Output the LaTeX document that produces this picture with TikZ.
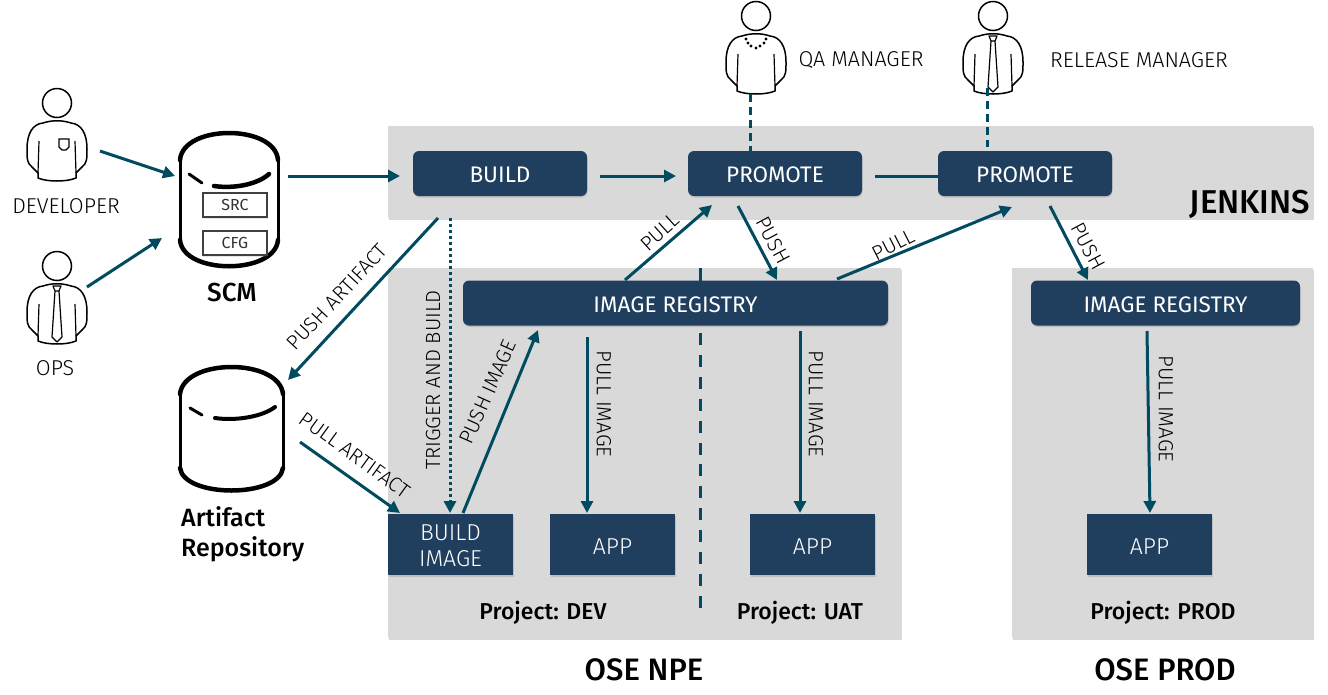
\documentclass[tikz,border=0pt]{standalone}
\usepackage{fontspec}
\setmainfont{Fira Sans Light}[BoldFont={Fira Sans Medium}]
\newfontfamily\boxfont{Fira Sans}
\usepackage{tikz}
\usetikzlibrary{arrows.meta,positioning,shadows}
\definecolor{navy}{HTML}{203F5E}
\definecolor{teal}{HTML}{004B5F}
\definecolor{panel}{HTML}{D9D9D9}
\newcommand{\fs}[1]{\fontsize{#1}{#1}\selectfont}
\tikzset{
  person/.pic={
    \draw[line width=1.5pt,fill=white,line join=round]
      (-14,20) .. controls (-24,21) and (-30,30) .. (-30,46)
      .. controls (-30,56) and (-30,60) .. (-25,64)
      -- (-19,70) -- (-19,75) .. controls (-10,79) and (10,79) .. (19,75)
      -- (19,70) -- (25,64) .. controls (30,60) and (30,56) .. (30,46)
      .. controls (30,30) and (24,21) .. (14,20)
      .. controls (5,17) and (-5,17) .. (-14,20) -- cycle;
    \draw[line width=1.5pt,fill=white] (0,0) circle (14.5);
    \draw[line width=1.2pt] (-18,38) -- (-19,70) (18,38) -- (19,70);
  },
  pocket/.pic={
    \draw[line width=1.2pt] (2,36) -- (12,36) -- (12,44) -- (9,47) -- (5,47) -- (2,44) -- cycle;
  },
  necktie/.pic={
    \draw[line width=1.2pt,line join=round] (-4,20) -- (4,20) -- (2,25) -- (-2,25) -- cycle
      (-2,25) -- (-5,71) -- (0,76) -- (5,71) -- (2,25);
  },
  necklace/.pic={
    \foreach \dx/\dy in {-10/23,-8/27,-5/30,0/32,4/30,8/27,10/23}
      \fill (\dx,\dy) circle (1.6);
  }
}
\begin{document}
\begin{tikzpicture}[x=1pt,y=-1pt,>={Triangle[length=12pt,width=12pt]}]
  \tikzstyle{zone}=[fill=panel,draw=none,inner sep=0pt,drop shadow={shadow xshift=0.5pt,shadow yshift=-1.5pt,opacity=.3}]
  \tikzstyle{pill}=[fill=navy,text=white,rounded corners=6pt,inner sep=0pt,minimum height=45pt,font=\boxfont\fs{22.5},text height=18.5pt,text depth=0pt,drop shadow={shadow xshift=0.5pt,shadow yshift=-1.5pt,opacity=.3}]
  \tikzstyle{block}=[fill=navy,text=white,inner sep=0pt,minimum width=125pt,minimum height=61pt,align=center,font=\fs{23},drop shadow={shadow xshift=0.5pt,shadow yshift=-1.5pt,opacity=.3}]
  \tikzstyle{tag}=[fill=white,draw=black!75,line width=1.3pt,inner sep=0pt,minimum width=64pt,minimum height=24pt,font=\boxfont\fs{16},text=black!80,drop shadow={shadow xshift=0pt,shadow yshift=-2pt,opacity=.2}]
  \tikzstyle{role}=[font=\fs{21.5},text=black]
  \tikzstyle{lbl}=[font=\fs{20.5},text=black,inner sep=0pt]
  \tikzstyle{head}=[font=\bfseries\fs{23},text=black]
  \tikzstyle{title}=[font=\bfseries\fs{33},text=black]
  \tikzstyle{flow}=[->,teal,line width=3pt]
  \tikzstyle{tub}=[line width=4.5pt,line cap=round]
  \tikzstyle{side}=[line width=3pt]

  \useasboundingbox (0,0) rectangle (1328,694);

  % panels
  \node[zone,minimum width=925pt,minimum height=92pt] (jenkins) at (850.5,172) {};
  \node[zone,minimum width=513pt,minimum height=370pt] (npe) at (644.5,453) {};
  \node[zone,minimum width=301pt,minimum height=370pt] (prod) at (1162.5,453) {};

  % people
  \pic at (57,103) {person};
  \pic at (57,103) {pocket};
  \pic at (57,266) {person};
  \pic at (57,266) {necktie};
  \pic at (756,16) {person};
  \pic at (756,16) {necklace};
  \pic at (993,16) {person};
  \pic at (993,16) {necktie};
  \node[role] (developer) at (66,206) {DEVELOPER};
  \node[role] (ops) at (55,368) {OPS};
  \node[role] (qa) at (861,60) {QA MANAGER};
  \node[role] (release) at (1139,60) {RELEASE MANAGER};

  % scm
  \draw[side] (180,160) -- (180,240) (278,160) -- (278,240);
  \draw[tub] (180,160) .. controls (183,124) and (275,124) .. (278,160);
  \draw[tub] (180,240) .. controls (183,275) and (275,275) .. (278,240);
  \draw[side,line cap=round] (189,174) -- (202,183);
  \draw[tub,line cap=round] (214,186) .. controls (235,189) and (258,184) .. (269,174);
  \node[tag] (src) at (235,205) {SRC};
  \node[tag] (cfg) at (235,243) {CFG};
  \node[head,font=\bfseries\fs{26}] (scm) at (232,293) {SCM};

  % artifact repo
  \draw[side] (180,394) -- (180,468) (283,394) -- (283,468);
  \draw[tub] (180,394) .. controls (184,358) and (279,358) .. (283,394);
  \draw[tub] (180,468) .. controls (184,498) and (279,498) .. (283,468);
  \draw[side,line cap=round] (190,408) -- (202,415);
  \draw[side,line width=4pt,line cap=round] (215,418) .. controls (235,421) and (262,417) .. (275,407);
  \node[head,font=\bfseries\fs{25},align=left,anchor=north west,inner sep=0pt] (artifact) at (181,506) {Artifact\\[5pt]Repository};

  % divider, behind the registry
  \coordinate (z_0) at (700,268);
  \coordinate (z_2) at (700,281);
  \coordinate (z_3) at (700,333);
  \coordinate (z_1) at (700,608);
  \draw[teal,line width=3pt] (z_0) -- (z_2);
  \draw[teal,line width=3pt,dash pattern=on 12pt off 9.9pt] (z_3) -- (z_1);

  % jenkins row
  \node[pill,minimum width=174pt] (build) at (500,173.5) {BUILD};
  \node[pill,minimum width=174pt] (promote_1) at (775,173.5) {PROMOTE};
  \node[pill,minimum width=174pt] (promote_2) at (1025,173.5) {PROMOTE};
  \node[pill,minimum width=425pt] (registry_1) at (675.5,303) {IMAGE REGISTRY};
  \node[pill,minimum width=269pt] (registry_2) at (1165.5,303) {IMAGE REGISTRY};

  % blocks
  \node[block] (image) at (450.5,544.5) {\rule{0pt}{19pt}BUILD\\[3.2pt]IMAGE};
  \node[block] (app_1) at (612.5,544.5) {\rule{0pt}{19pt}APP};
  \node[block] (app_2) at (812.5,544.5) {\rule{0pt}{19pt}APP};
  \node[block] (app_3) at (1149.5,544.5) {\rule{0pt}{19pt}APP};

  % free ends
  \coordinate (d_0) at (100,151);
  \coordinate (d_1) at (175,176);
  \coordinate (o_0) at (87,287);
  \coordinate (o_1) at (162,238);
  \coordinate (s_0) at (288,176);
  \coordinate (s_1) at (400,176);
  \coordinate (b_0) at (600,176);
  \coordinate (b_1) at (676,176);
  \coordinate (p_0) at (875,176);
  \coordinate (q_0) at (750,94);
  \coordinate (q_1) at (750,151);
  \coordinate (r_0) at (987,88);
  \coordinate (r_1) at (987,147);
  \coordinate (a_0) at (438,218);
  \coordinate (a_1) at (288,380);
  \coordinate (t_0) at (450,218);
  \coordinate (t_2) at (450,500);
  \coordinate (t_1) at (450,513);
  \coordinate (f_0) at (300,442);
  \coordinate (f_1) at (400,513);
  \coordinate (i_0) at (463,513);
  \coordinate (i_1) at (538,330);
  \coordinate (u_0) at (625,280);
  \coordinate (u_1) at (712,205);
  \coordinate (v_0) at (738,206);
  \coordinate (v_1) at (777,280);
  \coordinate (w_0) at (837,279);
  \coordinate (w_1) at (1012,207);
  \coordinate (y_0) at (1050,206);
  \coordinate (y_1) at (1088,280);
  \coordinate (g_0) at (587,337);
  \coordinate (g_1) at (587,513);
  \coordinate (h_0) at (800,331);
  \coordinate (h_1) at (800,513);
  \coordinate (j_0) at (1147,331);
  \coordinate (j_1) at (1150,513);

  \path[flow]
  (d_0) edge (d_1)
  (o_0) edge (o_1)
  (s_0) edge (s_1)
  (b_0) edge (b_1)
  (a_0) edge (a_1)
  (f_0) edge (f_1)
  (i_0) edge (i_1)
  (u_0) edge (u_1)
  (v_0) edge (v_1)
  (w_0) edge (w_1)
  (y_0) edge (y_1)
  (g_0) edge (g_1)
  (h_0) edge (h_1)
  (j_0) edge (j_1)
  (t_2) edge (t_1);
  \draw[teal,line width=3pt] (p_0) -- (promote_2.west |- p_0);
  \draw[teal,line width=3pt,dash pattern=on 8pt off 5pt] (q_0) -- (q_1);
  \draw[teal,line width=3pt,dash pattern=on 8pt off 5pt] (r_0) -- (r_1);
  \draw[teal,line width=3pt,dash pattern=on 3pt off 3pt] (t_0) -- (t_2);

  % arrow labels
  \node[lbl,rotate=47] (l_0) at (337,297) {PUSH ARTIFACT};
  \node[lbl,rotate=90] (l_1) at (433,380) {TRIGGER AND BUILD};
  \node[lbl,rotate=-36] (l_2) at (355,455) {PULL ARTIFACT};
  \node[lbl,rotate=66] (l_3) at (488,392) {PUSH IMAGE};
  \node[lbl,rotate=-90] (l_4) at (604,404) {PULL IMAGE};
  \node[lbl,rotate=-90] (l_5) at (816,404) {PULL IMAGE};
  \node[lbl,rotate=-90] (l_6) at (1166,409) {PULL IMAGE};
  \node[lbl,rotate=42] (l_7) at (660,232) {PULL};
  \node[lbl,rotate=-62] (l_8) at (773,240) {PUSH};
  \node[lbl,rotate=27] (l_9) at (893,245) {PULL};
  \node[lbl,rotate=-62] (l_10) at (1088,246) {PUSH};

  % captions
  \node[title] (cap_j) at (1250,204) {JENKINS};
  \node[head] (cap_d) at (543,613) {Project: DEV};
  \node[head] (cap_u) at (800,613) {Project: UAT};
  \node[head] (cap_p) at (1163,613) {Project: PROD};
  \node[title,font=\bfseries\fs{31}] (cap_n) at (644,670) {OSE NPE};
  \node[title,font=\bfseries\fs{31}] (cap_o) at (1165,670) {OSE PROD};
\end{tikzpicture}
\end{document}
